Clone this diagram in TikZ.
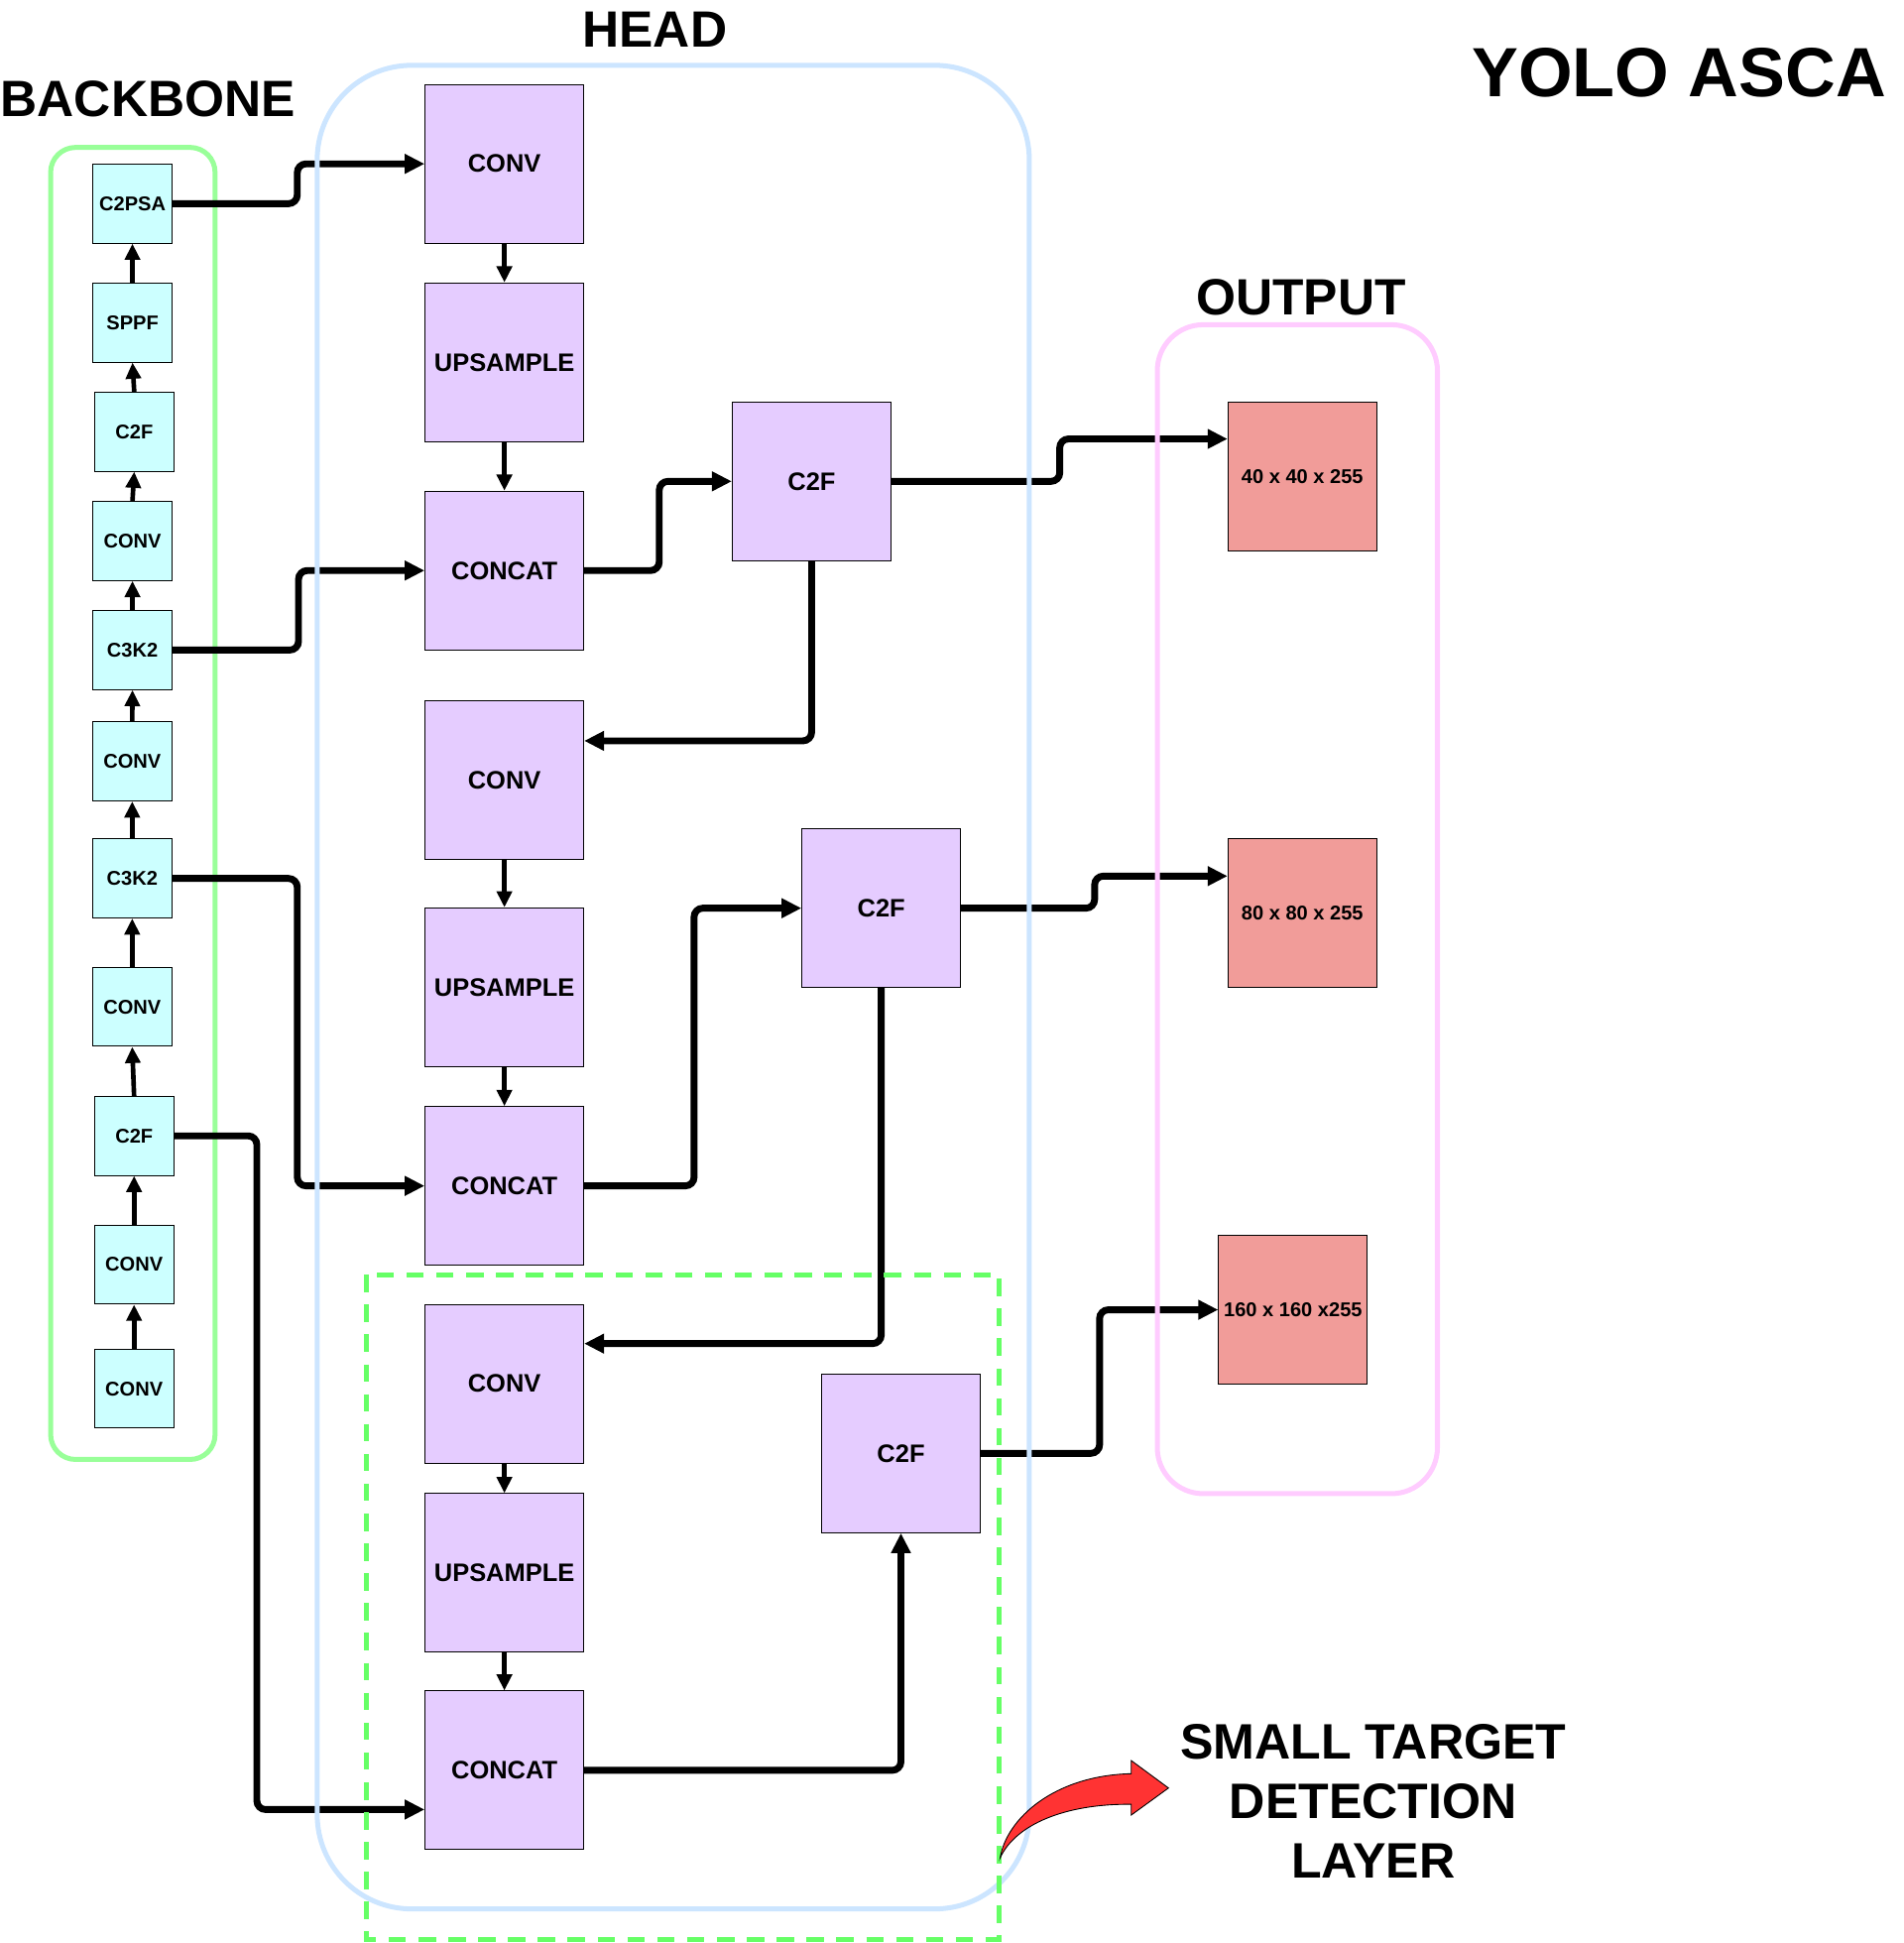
\documentclass[tikz,border=0pt]{standalone}
\usepackage{fontspec}
\setmainfont{Liberation Sans}
\usetikzlibrary{arrows.meta}
\pgfdeclarelayer{back}
\pgfdeclarelayer{conn}
\pgfdeclarelayer{cont}
\pgfsetlayers{back,conn,cont,main}
\definecolor{bbfill}{HTML}{CCFFFF}
\definecolor{hdfill}{HTML}{E5CCFF}
\definecolor{outfill}{HTML}{F19C99}
\definecolor{bbline}{HTML}{99FF99}
\definecolor{hdline}{HTML}{CCE5FF}
\definecolor{pinkline}{HTML}{FFCCFF}
\definecolor{dashgreen}{HTML}{66FF66}
\definecolor{redarrow}{HTML}{FF3333}
\begin{document}
\begin{tikzpicture}[x=1pt,y=-1pt,
  bbbox/.style={draw=black,line width=0.8pt,fill=bbfill,minimum width=63.5pt,minimum height=63.5pt,inner sep=0pt,font=\bfseries\fontsize{16}{19}\selectfont},
  hdbox/.style={draw=black,line width=0.8pt,fill=hdfill,minimum width=127.5pt,minimum height=127.5pt,inner sep=0pt,font=\bfseries\fontsize{20.3}{24}\selectfont},
  outbox/.style={draw=black,line width=0.8pt,fill=outfill,minimum width=119.5pt,minimum height=119.5pt,inner sep=0pt,font=\bfseries\fontsize{16}{19}\selectfont},
  titlelbl/.style={font=\bfseries\fontsize{41}{47.7}\selectfont,inner sep=0pt},
  conn/.style={line width=5.5pt,rounded corners=7pt,-{Triangle[length=16pt,width=15pt]}},
  harrow/.style={line width=4pt,-{Triangle[length=13pt,width=12pt]}},
  barrow/.style={line width=3.7pt,-{Triangle[length=13pt,width=12pt]}},
  contline/.style={line width=4pt}
]
\useasboundingbox (0,0) rectangle (1530,1561.8);

% ---------- backbone nodes ----------
\node[bbbox] (c2psa) at (106.5,163.7) {C2PSA};
\node[bbbox] (sppf)  at (106.5,259.3) {SPPF};
\node[bbbox] (bc2fa) at (107.9,347)   {C2F};
\node[bbbox] (bconva) at (106.5,434.8) {CONV};
\node[bbbox] (c3k2a) at (106.5,522.5) {C3K2};
\node[bbbox] (bconvb) at (106.3,612)  {CONV};
\node[bbbox] (c3k2b) at (106.3,706.1) {C3K2};
\node[bbbox] (bconvc) at (106.3,809.3) {CONV};
\node[bbbox] (bc2fb) at (107.8,913)   {C2F};
\node[bbbox] (bconvd) at (107.8,1016.5) {CONV};
\node[bbbox] (bconve) at (107.8,1116.2) {CONV};

% ---------- head nodes ----------
\node[hdbox] (conv1)   at (405.5,131.7)  {CONV};
\node[hdbox] (ups1)    at (405.5,291.2)  {UPSAMPLE};
\node[hdbox] (concat1) at (405.5,458.6)  {CONCAT};
\node[hdbox] (c2fa)    at (652.5,386.9)  {C2F};
\node[hdbox] (conv2)   at (405.5,627.3)  {CONV};
\node[hdbox] (ups2)    at (405.5,793.5)  {UPSAMPLE};
\node[hdbox] (concat2) at (405.5,953.2)  {CONCAT};
\node[hdbox] (c2fb)    at (708.5,730)    {C2F};
\node[hdbox] (conv3)   at (405.5,1112.3) {CONV};
\node[hdbox] (ups3)    at (405.5,1264.3) {UPSAMPLE};
\node[hdbox] (concat3) at (405.5,1423)   {CONCAT};
\node[hdbox] (c2fc)    at (724.3,1168.2) {C2F};

% ---------- output nodes ----------
\node[outbox] (out40)  at (1047,383)    {40 x 40 x 255};
\node[outbox] (out80)  at (1047,734)    {80 x 80 x 255};
\node[outbox] (out160) at (1039.5,1052.8) {160 x 160 x255};

% ---------- labels ----------
\node[titlelbl] (headlbl) at (526.5,24) {HEAD};
\node[titlelbl] (bblbl) at (119,79.7) {BACKBONE};
\node[titlelbl] (outlbl) at (1046,239.4) {OUTPUT};
\node[font=\bfseries\fontsize{56}{67}\selectfont,inner sep=0pt] (yolo) at (1349.8,58.5) {YOLO ASCA};
\node[font=\bfseries\fontsize{40}{47.7}\selectfont,inner sep=0pt,align=center] (small) at (1104,1447.6) {SMALL TARGET\\DETECTION\\LAYER};

% ---------- containers ----------
\begin{pgfonlayer}{back}
\draw[contline,draw=bbline,rounded corners=20pt] (40.7,118.5) rectangle (172.9,1173.1);
\end{pgfonlayer}
\begin{pgfonlayer}{cont}
\draw[contline,draw=hdline,rounded corners=76pt] (255,52.5) rectangle (827.5,1534.4);
\draw[contline,draw=pinkline,rounded corners=37pt] (930.4,261) rectangle (1155.6,1200.6);
\draw[contline,draw=dashgreen,dash pattern=on 14pt off 10pt] (294.5,1024.6) rectangle (803.5,1558.7);
\end{pgfonlayer}

% ---------- connectors ----------
\begin{pgfonlayer}{conn}
% backbone chain
\draw[barrow] (bconve.north) -- (bconvd.south);
\draw[barrow] (bconvd.north) -- (bc2fb.south);
\draw[barrow] (bc2fb.north) -- (bconvc.south);
\draw[barrow] (bconvc.north) -- (c3k2b.south);
\draw[barrow] (c3k2b.north) -- (bconvb.south);
\draw[barrow] (bconvb.north) -- (c3k2a.south);
\draw[barrow] (c3k2a.north) -- (bconva.south);
\draw[barrow] (bconva.north) -- (bc2fa.south);
\draw[barrow] (bc2fa.north) -- (sppf.south);
\draw[barrow] (sppf.north) -- (c2psa.south);
% head chain
\draw[harrow] (conv1) -- (ups1);
\draw[harrow] (ups1) -- (concat1);
\draw[harrow] (conv2) -- (ups2);
\draw[harrow] (ups2) -- (concat2);
\draw[harrow] (conv3) -- (ups3);
\draw[harrow] (ups3) -- (concat3);
% backbone to head
\draw[conn] (c2psa.east) -- (239,0 |- c2psa.east) |- (conv1.west);
\draw[conn] (c3k2a.east) -- (240,0 |- c3k2a.east) |- (concat1.west);
\draw[conn] (c3k2b.east) -- (239,0 |- c3k2b.east) |- (concat2.west);
\draw[conn] (bc2fb.east) -- (206.5,0 |- bc2fb.east) |- ([yshift=-31.5pt]concat3.west);
% head internal
\draw[conn] (concat1.east) -- (530,0 |- concat1.east) |- (c2fa.west);
\draw[conn] (c2fa.south) |- ([yshift=31.8pt]conv2.east);
\draw[conn] (concat2.east) -- (558,0 |- concat2.east) |- (c2fb.west);
\draw[conn] (c2fb.south) |- ([yshift=32.3pt]conv3.east);
\draw[conn] (concat3.east) -| (c2fc.south);
% head to output
\draw[conn] (c2fa.east) -- (852,0 |- c2fa.east) |- ([yshift=30.2pt]out40.west);
\draw[conn] (c2fb.east) -- (880,0 |- c2fb.east) |- ([yshift=29.8pt]out80.west);
\draw[conn] (c2fc.east) -- (884,0 |- c2fc.east) |- (out160.west);
\end{pgfonlayer}

% ---------- red curved arrow ----------
\filldraw[fill=redarrow,draw=black,line width=0.7pt,line join=miter]
  (804,1493.5) .. controls (809.2,1461.6) and (847.7,1427.1) .. (909.4,1425.7)
  -- (909.4,1415.1) -- (939.4,1437.2) -- (909.4,1459) -- (909.4,1450.3)
  .. controls (855.7,1449.7) and (815.9,1467) .. (804,1493.5) -- cycle;
\end{tikzpicture}
\end{document}
